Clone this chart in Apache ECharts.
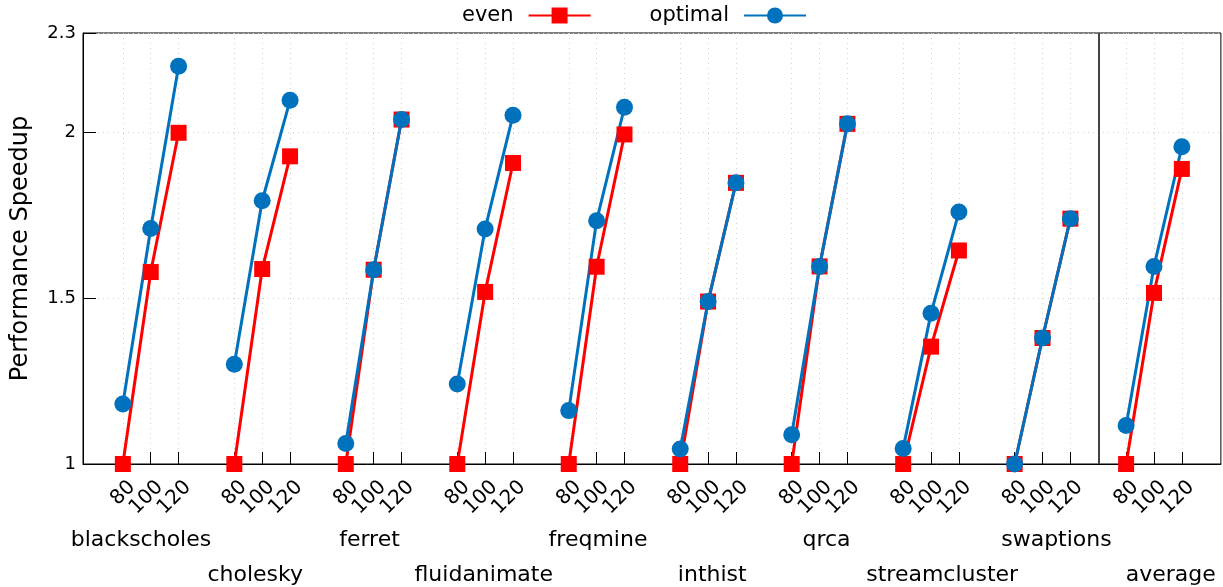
<!DOCTYPE html>
<html lang="en">
<head>
    <meta charset="utf-8">
    <title>Performance Speedup</title>
    <script src="https://cdn.jsdelivr.net/npm/echarts@6/dist/echarts.min.js"></script>
</head>
<body style="margin:0; background:#fff;">
<div id="main" style="width:1223px; height:587px;"></div>

<script type="text/javascript">
    // benchmarks and thread counts
    const benchmarks = ['blackscholes', 'cholesky', 'ferret', 'fluidanimate', 'freqmine',
        'inthist', 'qrca', 'streamcluster', 'swaptions', 'average'];
    const threads = ['80', '100', '120'];
    const yTicks = [1, 1.5, 2, 2.3];

    // speedup per benchmark, one value per thread count
    const even = [
        [1, 1.579, 1.999],
        [1, 1.588, 1.928],
        [1, 1.586, 2.039],
        [1, 1.519, 1.908],
        [1, 1.595, 1.994],
        [1, 1.490, 1.848],
        [1, 1.596, 2.026],
        [1, 1.354, 1.644],
        [1, 1.380, 1.740],
        [1, 1.516, 1.890]
    ];
    const optimal = [
        [1.181, 1.710, 2.200],
        [1.301, 1.794, 2.097],
        [1.062, 1.586, 2.039],
        [1.241, 1.709, 2.052],
        [1.161, 1.734, 2.076],
        [1.045, 1.490, 1.848],
        [1.088, 1.596, 2.026],
        [1.047, 1.455, 1.760],
        [1.000, 1.380, 1.740],
        [1.116, 1.596, 1.957]
    ];

    // where the group names sit on the x scale (4 slots per group)
    const namePos = [0.65, 4.75, 8.85, 12.95, 17.05, 21.15, 25.25, 29.4, 33.5, 37.6];

    const FONT = 'DejaVu Sans';
    const RED = '#ff0000';
    const BLUE = '#0072bd';
    const XMIN = -1.43, XMAX = 39.4;

    let xPos = [];
    benchmarks.forEach(function (b, g) {
        threads.forEach(function (t, i) { xPos.push(g * 4 + i); });
    });
    // rotated labels sit a little right of their tick, like gnuplot does;
    // empty labels at both ends keep echarts from dropping the outer ones
    let labelPos = [XMIN].concat(xPos.map(function (v) { return v + 0.33; }), [XMAX]);

    function toLine(arr) {
        let out = [];
        arr.forEach(function (vals, g) {
            vals.forEach(function (v, i) { out.push([g * 4 + i, v]); });
            out.push([g * 4 + 3, '-']);
        });
        return out;
    }

    function nameAxis(rowIdx, margin) {
        let vals = namePos.filter(function (p, g) { return g % 2 === rowIdx; });
        return {
            type: 'value', position: 'bottom', min: XMIN, max: XMAX,
            axisLine: {show: false}, axisTick: {show: false}, splitLine: {show: false},
            axisLabel: {
                customValues: vals, margin: margin, color: '#000',
                showMinLabel: true, showMaxLabel: true,
                fontFamily: FONT, fontSize: 22,
                formatter: function (v) {
                    let best = 0;
                    namePos.forEach(function (p, g) {
                        if (Math.abs(p - v) < Math.abs(namePos[best] - v)) best = g;
                    });
                    return benchmarks[best];
                }
            }
        };
    }

    let myChart = echarts.init(document.getElementById('main'));
    const option = {
        animation: false,
        legend: {
            left: 457, top: 0,
            align: 'right',
            itemWidth: 62, itemHeight: 20, itemGap: 58,
            textStyle: {fontFamily: FONT, fontSize: 21, color: '#000', padding: [0, 10, 0, 0]},
            data: ['even', 'optimal']
        },
        grid: {
            left: 83, right: 1, top: 33, bottom: 123,
            show: true, borderColor: '#000', borderWidth: 1
        },
        xAxis: [{
            type: 'value', min: XMIN, max: XMAX,
            axisLine: {onZero: false, lineStyle: {color: '#000'}},
            axisTick: {inside: true, length: 12, customValues: xPos, lineStyle: {color: '#000'}},
            splitLine: {show: true, lineStyle: {color: '#d0d0d0', type: [1, 4]}},
            axisLabel: {
                customValues: labelPos, rotate: 45, margin: 20, color: '#000',
                fontFamily: FONT, fontSize: 20,
                formatter: function (v) {
                    if (v <= XMIN || v >= XMAX) return '';
                    return threads[Math.round(v) % 4];
                }
            }
        }, nameAxis(0, 65), nameAxis(1, 100)],
        yAxis: {
            type: 'value', min: 1, max: 2.3,
            name: 'Performance Speedup', nameLocation: 'middle', nameGap: 50,
            nameTextStyle: {fontFamily: FONT, fontSize: 24, color: '#000'},
            axisLine: {show: true, onZero: false, lineStyle: {color: '#000'}},
            axisTick: {inside: true, length: 13, customValues: yTicks, lineStyle: {color: '#000'}},
            splitLine: {show: true, lineStyle: {color: '#d0d0d0', type: [1, 4]}},
            axisLabel: {
                customValues: yTicks, margin: 7, color: '#000',
                showMinLabel: true, showMaxLabel: true,
                fontFamily: FONT, fontSize: 18,
                formatter: function (v) { return String(v); }
            }
        },
        series: [{
            name: 'even', type: 'line', xAxisIndex: 0,
            data: toLine(even), clip: false,
            symbol: 'rect', symbolSize: 16,
            lineStyle: {color: RED, width: 3},
            itemStyle: {color: RED},
            markLine: {
                silent: true, symbol: 'none', label: {show: false},
                lineStyle: {color: '#444', width: 2, type: 'solid'},
                data: [{xAxis: 35}]
            }
        }, {
            name: 'optimal', type: 'line', xAxisIndex: 0,
            data: toLine(optimal), clip: false,
            symbol: 'circle', symbolSize: 17,
            lineStyle: {color: BLUE, width: 3},
            itemStyle: {color: BLUE}
        }]
    };
    myChart.setOption(option);
</script>
</body>
</html>
